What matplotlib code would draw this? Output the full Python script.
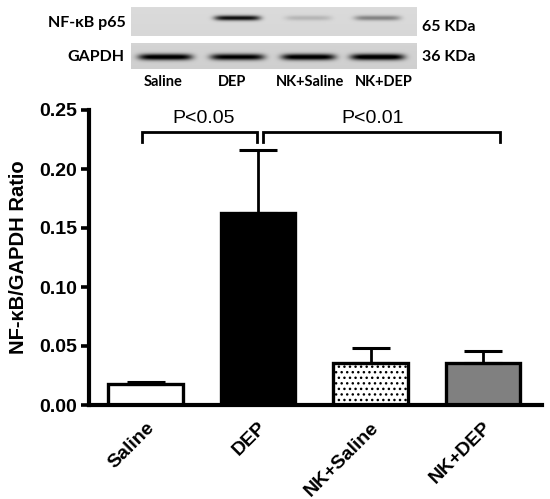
import numpy as np
import matplotlib
matplotlib.use("Agg")
import matplotlib.pyplot as plt

# bar chart values
groups = ["Saline", "DEP", "NK+Saline", "NK+DEP"]
ratio = [0.0175, 0.163, 0.0352, 0.036]
sem = [0.002, 0.053, 0.013, 0.010]
bar_colors = ["white", "black", "white", "#808080"]
bar_hatch = [None, None, "...", None]
yticks = [0.00, 0.05, 0.10, 0.15, 0.20, 0.25]

# western blot look (relative band darkness per lane)
p65_band = [0.0, 0.80, 0.14, 0.34]
gapdh_band = [0.88, 0.84, 0.88, 0.90]
lane_px = [165, 237, 308, 377]
lane_labels = ["Saline", "DEP", "NK+Saline", "NK+DEP"]
lane_label_px = [163, 232, 310, 384]

W, H = 550, 499
plt.rcParams["hatch.linewidth"] = 1.0
fig = plt.figure(figsize=(W / 100, H / 100), dpi=100)

# ---- blot panels, drawn in a pixel-coordinate overlay
ov = fig.add_axes([0, 0, 1, 1])
ov.set_xlim(0, W); ov.set_ylim(H, 0); ov.axis("off")

def panel(x0, x1, y0, y1, bg, bands, ybc, sy, halfw):
    nx, ny = int(x1 - x0), int(y1 - y0)
    xx = np.arange(nx)[None, :] + x0
    yy = np.arange(ny)[:, None] + y0
    img = np.full((ny, nx), bg) - 0.02 * (yy - y0) / ny
    for cx, d in zip(lane_px, bands):
        hx = np.exp(-((xx - cx) / halfw) ** 6)
        hy = np.exp(-((yy - ybc) / sy) ** 2)
        img = img - d * hx * hy
    ov.imshow(np.clip(img, 0, 1), cmap="gray", vmin=0, vmax=1,
              extent=(x0, x1, y1, y0), interpolation="bilinear", aspect="auto")

panel(131, 417, 7, 36, 0.86, p65_band, 17.5, 2.6, 23)
panel(131, 417, 43, 69, 0.83, gapdh_band, 56.5, 3.2, 27)
ov.set_xlim(0, W); ov.set_ylim(H, 0)

bf = dict(family="Lato", weight="bold", fontsize=11.5)
ov.text(126, 23, "NF-\u03baB p65", ha="right", va="center", **bf)
ov.text(124, 57, "GAPDH", ha="right", va="center", **bf)
ov.text(422, 27, "65 KDa", ha="left", va="center", **bf)
ov.text(422, 57, "36 KDa", ha="left", va="center", **bf)
for cx, lab in zip(lane_label_px, lane_labels):
    ov.text(cx, 82, lab, ha="center", va="center", family="Lato",
            weight="bold", fontsize=10.5)

# ---- bar chart
ax = fig.add_axes([88.5 / W, 1 - 405 / H, (542 - 88.5) / W, (405 - 110) / H])
x = np.arange(len(groups))
bars = ax.bar(x, ratio, width=0.66, color=bar_colors, edgecolor="black",
              linewidth=2.4, zorder=2)
for b, h in zip(bars, bar_hatch):
    if h:
        b.set_hatch(h)
ax.errorbar(x, ratio, yerr=[np.zeros(len(sem)), sem], fmt="none", ecolor="black",
            elinewidth=2, capsize=14, capthick=2.2, zorder=3)

ax.set_xlim(-0.507, 3.524)
ax.set_ylim(0, 0.25)
ax.set_yticks(yticks)
ax.set_yticklabels([f"{v:.2f}" for v in yticks])
ax.set_xticks(x)
ax.set_xticklabels(groups, rotation=45, ha="right", rotation_mode="anchor")
for s in ("top", "right"):
    ax.spines[s].set_visible(False)
for s in ("left", "bottom"):
    ax.spines[s].set_linewidth(3)
ax.tick_params(axis="y", length=6, width=2.6, pad=2)
ax.tick_params(axis="x", length=0, pad=10)
for t in ax.get_yticklabels() + ax.get_xticklabels():
    t.set_fontfamily("Liberation Sans"); t.set_fontweight("bold"); t.set_fontsize(14)
ax.set_ylabel("NF-\u03baB/GAPDH Ratio", fontfamily="Liberation Sans",
              fontweight="bold", fontsize=14.5, labelpad=8)

# significance brackets
yb, yt = 0.2314, 0.2229
for xa, xb in [(-0.03, 0.99), (1.04, 3.15)]:
    ax.plot([xa, xa, xb, xb], [yt, yb, yb, yt], color="black", lw=2,
            solid_joinstyle="miter", clip_on=False)
for xt, txt in [(0.52, "P<0.05"), (2.02, "P<0.01")]:
    ax.text(xt, 0.2428, txt, ha="center", va="center", fontsize=14,
            fontfamily="Liberation Sans")

fig.savefig("out.png", dpi=100)
